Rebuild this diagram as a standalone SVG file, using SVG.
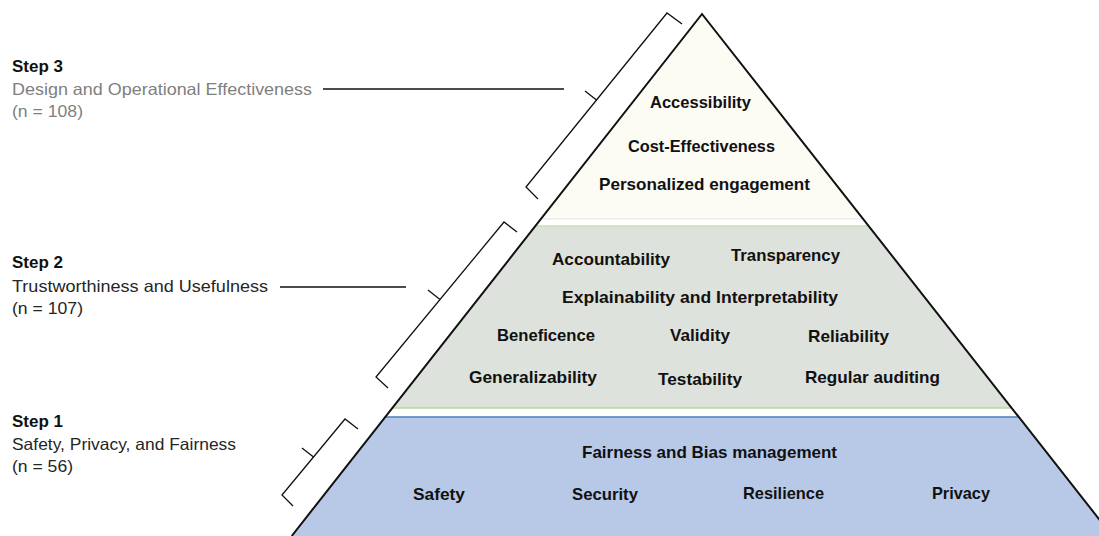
<svg xmlns="http://www.w3.org/2000/svg" width="1099" height="536" viewBox="0 0 1099 536">
<style>
.lvl{font-family:"Liberation Sans",Arial,sans-serif;font-weight:bold;font-size:17px;fill:#111111}
.step{font-family:"Liberation Sans",Arial,sans-serif;font-weight:bold;font-size:16.5px;fill:#111111}
.desc{font-family:"Liberation Sans",Arial,sans-serif;font-size:16.5px;fill:#262626}
.gray{fill:#7f7f7f}
.br{fill:none;stroke:#111111;stroke-width:1.3;stroke-linejoin:miter}
.ln{stroke:#111111;stroke-width:1.3}
</style>
<rect x="0" y="0" width="1099" height="536" fill="#ffffff"/>
<g id="level3">
<polygon points="702,14 861.6,217 542.4,217" fill="#fcfbf4"/>
<line x1="541.6" y1="218.7" x2="862.4" y2="218.7" stroke="#ececec" stroke-width="1.5"/>
<text class="lvl" x="650" y="108" textLength="101" lengthAdjust="spacingAndGlyphs">Accessibility</text>
<text class="lvl" x="628" y="152" textLength="147" lengthAdjust="spacingAndGlyphs">Cost-Effectiveness</text>
<text class="lvl" x="599" y="190" textLength="211" lengthAdjust="spacingAndGlyphs">Personalized engagement</text>
</g>
<g id="level2">
<polygon points="535.4,226 868.6,226 1011.7,408 392.3,408" fill="#dee2dc"/>
<line x1="535.4" y1="226" x2="868.6" y2="226" stroke="#c5e0b4" stroke-width="1.5"/>
<line x1="392.3" y1="408" x2="1011.7" y2="408" stroke="#b6d99c" stroke-width="1.5"/>
<text class="lvl" x="552" y="265" textLength="118" lengthAdjust="spacingAndGlyphs">Accountability</text>
<text class="lvl" x="731" y="261" textLength="109" lengthAdjust="spacingAndGlyphs">Transparency</text>
<text class="lvl" x="562" y="303" textLength="276" lengthAdjust="spacingAndGlyphs">Explainability and Interpretability</text>
<text class="lvl" x="497" y="341" textLength="98" lengthAdjust="spacingAndGlyphs">Beneficence</text>
<text class="lvl" x="670" y="341" textLength="60" lengthAdjust="spacingAndGlyphs">Validity</text>
<text class="lvl" x="808" y="342" textLength="81" lengthAdjust="spacingAndGlyphs">Reliability</text>
<text class="lvl" x="469" y="383" textLength="128" lengthAdjust="spacingAndGlyphs">Generalizability</text>
<text class="lvl" x="658" y="385" textLength="84" lengthAdjust="spacingAndGlyphs">Testability</text>
<text class="lvl" x="805" y="383" textLength="135" lengthAdjust="spacingAndGlyphs">Regular auditing</text>
</g>
<g id="level1">
<polygon points="385.2,417 1018.8,417 1112.3,536 291.7,536" fill="#b8c9e7"/>
<line x1="385.2" y1="417" x2="1018.8" y2="417" stroke="#4a7ebb" stroke-width="1.6"/>
<text class="lvl" x="582" y="458" textLength="255" lengthAdjust="spacingAndGlyphs">Fairness and Bias management</text>
<text class="lvl" x="413" y="500" textLength="52" lengthAdjust="spacingAndGlyphs">Safety</text>
<text class="lvl" x="572" y="500" textLength="66" lengthAdjust="spacingAndGlyphs">Security</text>
<text class="lvl" x="743" y="499" textLength="81" lengthAdjust="spacingAndGlyphs">Resilience</text>
<text class="lvl" x="932" y="499" textLength="58" lengthAdjust="spacingAndGlyphs">Privacy</text>
</g>
<g id="pyramid-outline">
<polyline points="291.7,536 702,14 1112.3,536" fill="none" stroke="#111111" stroke-width="2" stroke-linejoin="miter"/>
</g>
<g id="step3-label">
<text class="step" x="12" y="72" textLength="51" lengthAdjust="spacingAndGlyphs">Step 3</text>
<text class="desc gray" x="12" y="95" textLength="300" lengthAdjust="spacingAndGlyphs">Design and Operational Effectiveness</text>
<text class="desc gray" x="12" y="117" textLength="71" lengthAdjust="spacingAndGlyphs">(n = 108)</text>
</g>
<g id="step2-label">
<text class="step" x="12" y="268" textLength="51" lengthAdjust="spacingAndGlyphs">Step 2</text>
<text class="desc" x="12" y="292" textLength="256" lengthAdjust="spacingAndGlyphs">Trustworthiness and Usefulness</text>
<text class="desc" x="12" y="314" textLength="71" lengthAdjust="spacingAndGlyphs">(n = 107)</text>
</g>
<g id="step1-label">
<text class="step" x="12" y="427" textLength="51" lengthAdjust="spacingAndGlyphs">Step 1</text>
<text class="desc" x="12" y="450" textLength="224" lengthAdjust="spacingAndGlyphs">Safety, Privacy, and Fairness</text>
<text class="desc" x="12" y="472" textLength="61" lengthAdjust="spacingAndGlyphs">(n = 56)</text>
</g>
<g id="connectors">
<path class="br" d="M682,24 L667,13 L526,187 L538,199"/>
<path class="br" d="M596.5,100 L585,91"/>
<line class="ln" x1="323" y1="89" x2="564" y2="89"/>
<path class="br" d="M517,232 L504,222 L376,377 L388,388"/>
<path class="br" d="M440,299.5 L428,290"/>
<line class="ln" x1="280" y1="287" x2="406" y2="287"/>
<path class="br" d="M358,429 L345,419 L282,495 L293,506"/>
<path class="br" d="M313.5,457 L302,448"/>
</g>
</svg>
